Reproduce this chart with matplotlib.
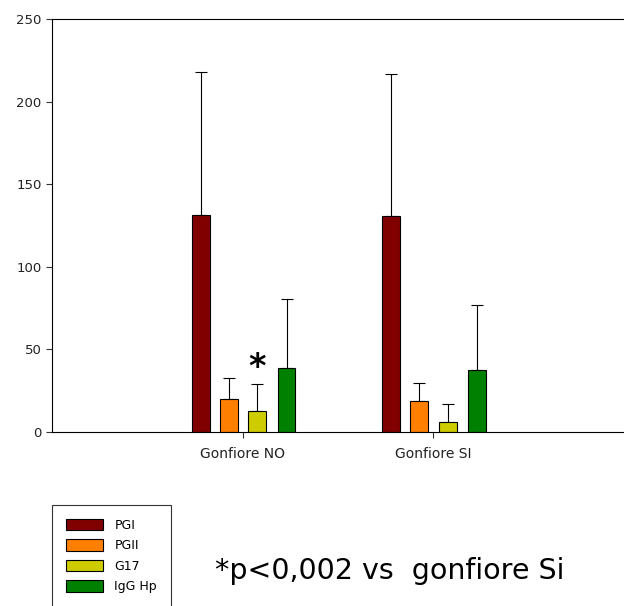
import numpy as np
from matplotlib import pyplot as plt

groups = ["Gonfiore NO", "Gonfiore SI"]
series = ["PGI", "PGII", "G17", "IgG Hp"]
colors = ["#800000", "#FF8000", "#CCCC00", "#008000"]

# mean values per series (NO, SI)
means = {
    "PGI":    [131.4, 130.7],
    "PGII":   [20.0, 18.8],
    "G17":    [12.5, 6.0],
    "IgG Hp": [38.7, 37.5],
}
# upper error (SD) per series
errs = {
    "PGI":    [86.6, 86.0],
    "PGII":   [12.7, 10.9],
    "G17":    [16.5, 11.0],
    "IgG Hp": [41.8, 39.4],
}

fig = plt.figure(figsize=(6.24, 6.06), dpi=100)
ax = fig.add_axes([52/624, 1-432/606, 1-52/624, (432-19)/606])

x = np.arange(len(groups))
offsets = [-0.22, -0.073, 0.076, 0.23]
w = 0.094
handles = []
for s, c, off in zip(series, colors, offsets):
    m = np.array(means[s])
    e = np.array(errs[s])
    # error bars behind the bars so the lower cap is hidden
    b = ax.bar(x + off, m, w, color=c, edgecolor="black", linewidth=0.8,
               yerr=[np.zeros_like(e), e], capsize=4,
               error_kw=dict(elinewidth=0.8, capthick=0.8, ecolor="black", zorder=1),
               label=s, zorder=2)
    handles.append(b)

ax.set_xlim(-1, 2)
ax.set_ylim(0, 250)
ax.set_yticks(np.arange(0, 251, 50))
ax.set_xticks(x)
ax.set_xticklabels(groups)
ax.spines["right"].set_visible(False)
for sp in ["left", "top", "bottom"]:
    ax.spines[sp].set_linewidth(0.8)
ax.tick_params(axis="both", direction="out", length=4, width=0.8,
               labelsize=9.5, colors="#333333", labelcolor="#222222")
ax.tick_params(axis="x", labelsize=10, pad=7)

# significance star on G17, Gonfiore NO
ax.text(x[0] + offsets[2], 39, "*", ha="center", va="center",
        fontsize=24, fontweight="bold")

fig.legend(handles=handles, labels=series, loc="upper left",
           bbox_to_anchor=(52/624, 1-505/606), fontsize=9,
           frameon=True, fancybox=False, edgecolor="black",
           handlelength=3.0, handleheight=1.0, labelspacing=0.6,
           borderpad=1.1, borderaxespad=0, handletextpad=0.9)
fig.legends[0].get_frame().set_linewidth(0.8)

fig.text(215/624, 1-571/606, "*p<0,002 vs  gonfiore Si", fontsize=20.5,
         ha="left", va="center")

fig.savefig("out.png", dpi=100)
